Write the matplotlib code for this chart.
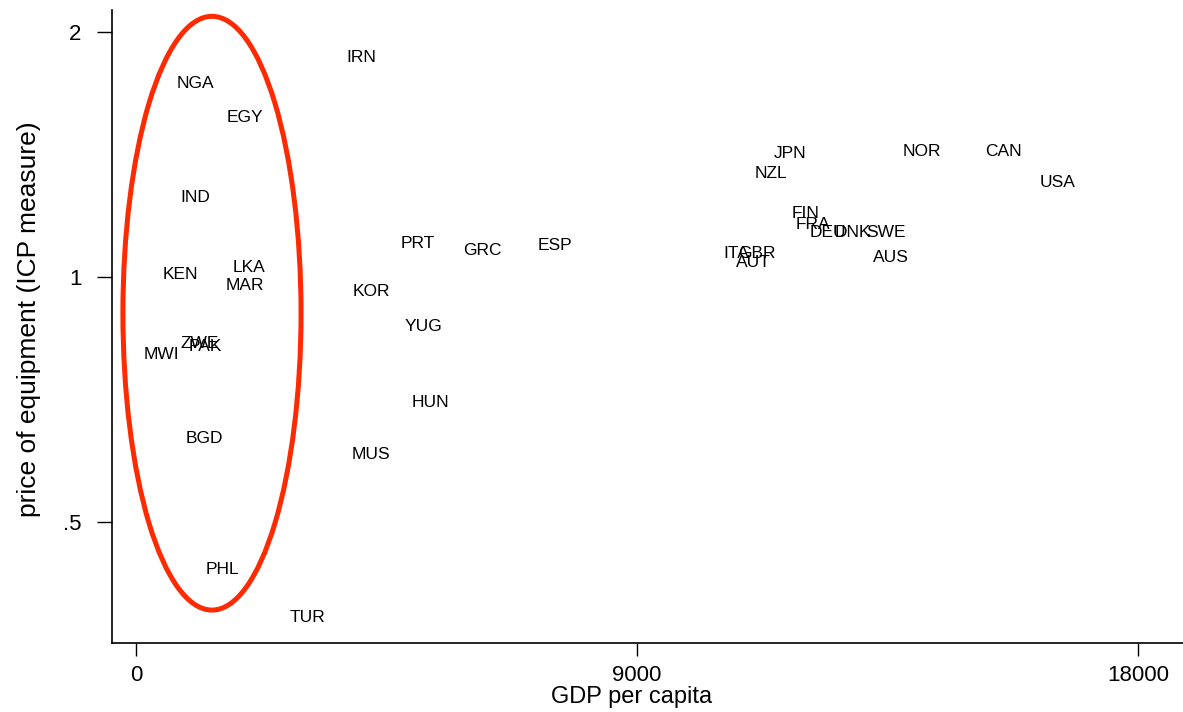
import numpy as np
import matplotlib
matplotlib.use('agg')
import matplotlib.pyplot as plt
import matplotlib.transforms as mtransforms
from matplotlib.patches import Ellipse

# country codes, GDP per capita, ICP price of equipment
countries = ["IRN", "NGA", "EGY", "JPN", "NZL", "NOR", "CAN", "USA", "IND",
             "FIN", "FRA", "DEU", "DNK", "SWE", "PRT", "GRC", "ESP", "ITA",
             "GBR", "AUT", "AUS", "KEN", "LKA", "MAR", "KOR", "YUG", "MWI",
             "ZWE", "PAK", "HUN", "MUS", "BGD", "PHL", "TUR"]
gdp = [4042, 1060, 1958, 11748, 11406, 14119, 15574, 16562, 1060,
       12035, 12161, 12430, 12879, 13470, 5066, 6215, 7526, 10778,
       11155, 11083, 13562, 790, 2030, 1958, 4221, 5173, 450,
       1150, 1250, 5281, 4221, 1221, 1545, 3072]
price = [1.863, 1.731, 1.572, 1.420, 1.342, 1.428, 1.428, 1.308, 1.254,
         1.198, 1.161, 1.135, 1.135, 1.135, 1.101, 1.079, 1.094, 1.070,
         1.070, 1.043, 1.058, 1.008, 1.028, 0.977, 0.961, 0.870, 0.803,
         0.828, 0.822, 0.702, 0.606, 0.634, 0.437, 0.382]

xticks = [0, 9000, 18000]
yticks = [0.5, 1, 2]
ytick_labels = [".5", "1", "2"]

# the circled group of poor countries
circle_x = 1365
circle_w = 3200

plt.rcParams['font.family'] = ['Liberation Sans', 'DejaVu Sans']

fig = plt.figure(figsize=(11.83, 7.12), dpi=100, facecolor='w')
ax = fig.add_axes([112 / 1183, 69 / 712, 1071 / 1183, 633 / 712])

ax.set_yscale('log')
ax.set_xlim(-431, 18808)
ax.set_ylim(0.355, 2.13)

for name, x, y in zip(countries, gdp, price):
    ax.text(x, y, name, fontsize=12.5, ha='center', va='center', color='black')

ax.spines['right'].set_color('none')
ax.spines['top'].set_color('none')
ax.spines['left'].set_linewidth(1.2)
ax.spines['bottom'].set_linewidth(1.2)

ax.set_xticks(xticks)
ax.set_xticklabels([str(t) for t in xticks])
ax.set_yticks(yticks)
ax.set_yticklabels(ytick_labels)
ax.yaxis.set_minor_locator(matplotlib.ticker.NullLocator())
ax.tick_params(axis='x', length=9.5, width=1, pad=6, labelsize=16, direction='out')
ax.tick_params(axis='y', length=11, width=1, pad=11, labelsize=16, direction='out')

ax.set_xlabel("GDP per capita", fontsize=17)
ax.set_ylabel("price of equipment (ICP measure)", fontsize=19)
ax.xaxis.set_label_coords(0.4855, -0.068)
ax.yaxis.set_label_coords(-0.066, 0.512)

trans = mtransforms.blended_transform_factory(ax.transData, ax.transAxes)
ell = Ellipse((circle_x, 0.521), circle_w, 0.938, transform=trans, fill=False,
              edgecolor='#ff2a00', linewidth=3.6, clip_on=False)
ax.add_patch(ell)

fig.savefig('out.png', dpi=100, facecolor='w')
